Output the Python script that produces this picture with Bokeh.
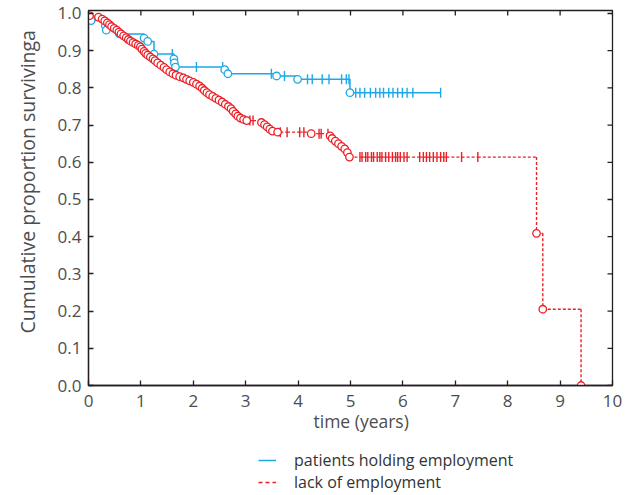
import numpy as np
from bokeh.plotting import figure
from bokeh.layouts import column
from bokeh.models import (Range1d, FixedTicker, Legend, LegendItem,
                          PrintfTickFormatter, Title)
from bokeh.embed import file_html
from bokeh.resources import INLINE

# ---------------- data ----------------
# patients holding employment (events: time, survival after event)
emp_event_t = [0.05, 0.32, 0.34, 0.59, 1.06, 1.13, 1.25, 1.63, 1.64, 1.66,
               2.60, 2.66, 3.59, 3.99, 4.99]
emp_event_s = [0.981, 0.967, 0.955, 0.945, 0.934, 0.925, 0.891, 0.878, 0.867, 0.856,
               0.849, 0.838, 0.832, 0.823, 0.787]
emp_cens_t = [1.60, 2.06, 2.56, 3.49, 3.74, 4.18, 4.27, 4.46, 4.59, 4.83, 4.92, 4.97,
              5.10, 5.18, 5.27, 5.38, 5.48, 5.56, 5.63, 5.73, 5.81, 5.90, 5.99, 6.08,
              6.19, 6.72]
emp_last_t = 6.72

# lack of employment
unemp_event_t = [0.02, 0.19, 0.26, 0.31, 0.36, 0.40, 0.44, 0.49, 0.54, 0.58,
                 0.62, 0.67, 0.72, 0.76, 0.80, 0.85, 0.90, 0.95, 0.99, 1.02,
                 1.06, 1.09, 1.13, 1.18, 1.23, 1.27, 1.32, 1.38, 1.44, 1.49,
                 1.55, 1.61, 1.67, 1.74, 1.81, 1.87, 1.93, 2.00, 2.06, 2.12,
                 2.17, 2.21, 2.26, 2.31, 2.37, 2.43, 2.49, 2.55, 2.61, 2.67,
                 2.72, 2.76, 2.81, 2.85, 2.90, 2.96, 3.02, 3.30, 3.36, 3.41,
                 3.46, 3.51, 3.61, 4.25, 4.61, 4.65, 4.71, 4.77, 4.83, 4.89,
                 4.94, 4.98, 8.55, 8.67, 9.40]
unemp_event_s = [0.994, 0.990, 0.985, 0.980, 0.975, 0.970, 0.965, 0.960, 0.955, 0.950,
                 0.945, 0.940, 0.935, 0.930, 0.926, 0.922, 0.918, 0.914, 0.910, 0.904,
                 0.898, 0.893, 0.888, 0.883, 0.878, 0.873, 0.867, 0.861, 0.855, 0.849,
                 0.843, 0.838, 0.834, 0.830, 0.827, 0.823, 0.819, 0.815, 0.810, 0.805,
                 0.799, 0.793, 0.787, 0.782, 0.777, 0.772, 0.767, 0.762, 0.756, 0.750,
                 0.744, 0.737, 0.730, 0.724, 0.719, 0.715, 0.712, 0.707, 0.701, 0.695,
                 0.689, 0.684, 0.681, 0.677, 0.671, 0.664, 0.657, 0.650, 0.643, 0.636,
                 0.626, 0.614, 0.409, 0.205, 0.0]
unemp_cens_t = [3.08, 3.14, 3.66, 3.79, 4.03, 4.11, 4.40, 4.44, 4.57,
                5.18, 5.22, 5.29, 5.33, 5.40, 5.44, 5.51, 5.56, 5.60, 5.67, 5.73,
                5.80, 5.86, 5.90, 5.95, 6.02, 6.08, 6.32, 6.39, 6.45, 6.51, 6.58,
                6.65, 6.72, 6.78, 6.83, 7.12, 7.43]
unemp_last_t = 9.40

x_ticks = [0, 1, 2, 3, 4, 5, 6, 7, 8, 9, 10]
y_ticks = [0.0, 0.1, 0.2, 0.3, 0.4, 0.5, 0.6, 0.7, 0.8, 0.9, 1.0]

x_label = "time (years)"
y_label = "Cumulative proportion survivinga"
series_labels = ["patients holding employment", "lack of employment"]

BLUE = "#1DA9E5"
RED = "#EC1F27"
AXIS = "#231F20"
TEXT = "#4D4D4D"
FONT = "Open Sans"
RED_DASH = "3 2"
LEGEND_DASH = "4 3"

W, H = 631, 440
LEG_H = 55
B_LEFT, B_RIGHT, B_TOP, B_BOTTOM = 87, 19, 10, 55
X0, X1 = 0, 10
Y0, Y1 = 0, 1.008
TICK_PX = 5


def km_path(ev_t, ev_s, cens_t, last_t):
    marks = sorted([(t, 1, s) for t, s in zip(ev_t, ev_s)] +
                   [(t, 0, 0.0) for t in cens_t])
    xs, ys = [0.0], [1.0]
    cur = 1.0
    cx, cy = [], []
    for t, kind, s in marks:
        xs.append(t)
        ys.append(cur)
        if kind == 1:
            cur = s
            xs.append(t)
            ys.append(cur)
        else:
            cx.append(t)
            cy.append(cur)
    if last_t > xs[-1]:
        xs.append(last_t)
        ys.append(cur)
    return xs, ys, cx, cy


ex, ey, ecx, ecy = km_path(emp_event_t, emp_event_s, emp_cens_t, emp_last_t)
ux, uy, ucx, ucy = km_path(unemp_event_t, unemp_event_s, unemp_cens_t, unemp_last_t)

# split the dashed curve into separate pieces (dash restarts on each piece)
seg_x, seg_y = [], []
for i in range(len(ux) - 1):
    if ux[i] == ux[i + 1] and uy[i] == uy[i + 1]:
        continue
    seg_x.append([ux[i], ux[i + 1]])
    seg_y.append([uy[i], uy[i + 1]])

# ---------------- main figure ----------------
p = figure(width=W, height=H, output_backend="svg", toolbar_location=None,
           x_range=Range1d(X0, X1), y_range=Range1d(Y0, Y1),
           min_border_left=B_LEFT, min_border_right=B_RIGHT, min_border_top=B_TOP,
           min_border_bottom=B_BOTTOM)
p.xgrid.visible = False
p.ygrid.visible = False
p.outline_line_color = AXIS
p.outline_line_width = 1.3
p.background_fill_color = "white"
p.border_fill_color = "white"

# mirrored inward ticks on top and right edges
dy_tick = TICK_PX * (Y1 - Y0) / (H - B_TOP - B_BOTTOM)
dx_tick = TICK_PX * (X1 - X0) / (W - B_LEFT - B_RIGHT)
p.segment(x0=x_ticks, y0=[Y1] * len(x_ticks), x1=x_ticks,
          y1=[Y1 - dy_tick] * len(x_ticks), line_color=AXIS, line_width=1.3)
p.segment(x0=[X1] * len(y_ticks), y0=y_ticks, x1=[X1 - dx_tick] * len(y_ticks),
          y1=y_ticks, line_color=AXIS, line_width=1.3)

# employment curve
p.line(ex, ey, line_color=BLUE, line_width=1.5)
p.scatter(ecx, ecy, marker="dash", angle=np.pi / 2, size=10,
          line_color=BLUE, line_width=1.4)
p.scatter(emp_event_t, emp_event_s, marker="circle", size=7.5,
          fill_color="white", line_color=BLUE, line_width=1.3)

# lack of employment curve
p.multi_line(seg_x, seg_y, line_color=RED, line_width=1.4, line_dash=RED_DASH)
p.scatter(ucx, ucy, marker="dash", angle=np.pi / 2, size=10,
          line_color=RED, line_width=1.4)
p.scatter(unemp_event_t, unemp_event_s, marker="circle", size=7.5,
          fill_color="white", line_color=RED, line_width=1.3)


def style_axis(ax):
    ax.axis_line_color = AXIS
    ax.axis_line_width = 1.3
    ax.major_tick_line_color = AXIS
    ax.major_tick_line_width = 1.3
    ax.major_tick_in = TICK_PX
    ax.major_tick_out = 0
    ax.minor_tick_line_color = None
    ax.major_label_text_font = FONT
    ax.major_label_text_font_size = "17px"
    ax.major_label_text_color = TEXT


xa = p.xaxis[0]
xa.ticker = FixedTicker(ticks=x_ticks)
style_axis(xa)
xa.major_label_standoff = 9

ya = p.yaxis[0]
ya.ticker = FixedTicker(ticks=y_ticks)
ya.formatter = PrintfTickFormatter(format="%.1f")
style_axis(ya)
ya.major_label_standoff = 7

# axis titles (side titles, so their offset can follow the reference)
p.add_layout(Title(text=x_label, align="left", offset=225, standoff=-5,
                   text_font=FONT, text_font_size="17.5px",
                   text_font_style="normal", text_color=TEXT), "below")
p.add_layout(Title(text=y_label, align="left", offset=52, standoff=25,
                   vertical_align="middle",
                   text_font=FONT, text_font_size="19.5px",
                   text_font_style="normal", text_color=TEXT), "left")

# ---------------- legend strip ----------------
lg = figure(width=W, height=LEG_H, output_backend="svg", toolbar_location=None,
            x_range=Range1d(0, 1), y_range=Range1d(0, 1),
            x_axis_type=None, y_axis_type=None,
            min_border_left=0, min_border_right=0, min_border_top=0,
            min_border_bottom=0)
lg.outline_line_color = None
lg.xgrid.visible = False
lg.ygrid.visible = False
# off-range placeholder renderers, used only for the legend swatches
leg_blue = lg.line(x=[5, 6], y=[5, 5], line_color=BLUE, line_width=1.5)
leg_red = lg.line(x=[5, 6], y=[5, 5], line_color=RED, line_width=1.5,
                  line_dash=LEGEND_DASH)

for label, rend, loc_y in [(series_labels[0], leg_blue, 24),
                           (series_labels[1], leg_red, 2)]:
    lg.add_layout(Legend(items=[LegendItem(label=label, renderers=[rend])],
                         location=(170, loc_y), orientation="vertical",
                         border_line_color=None, background_fill_alpha=0,
                         padding=0, margin=0, spacing=0,
                         glyph_width=18, glyph_height=20, label_height=20,
                         label_standoff=18, label_text_font=FONT,
                         label_text_font_size="16px",
                         label_text_color="#333333"))

layout = column(p, lg, spacing=0)
open("out.html", "w").write(file_html(layout, INLINE))
